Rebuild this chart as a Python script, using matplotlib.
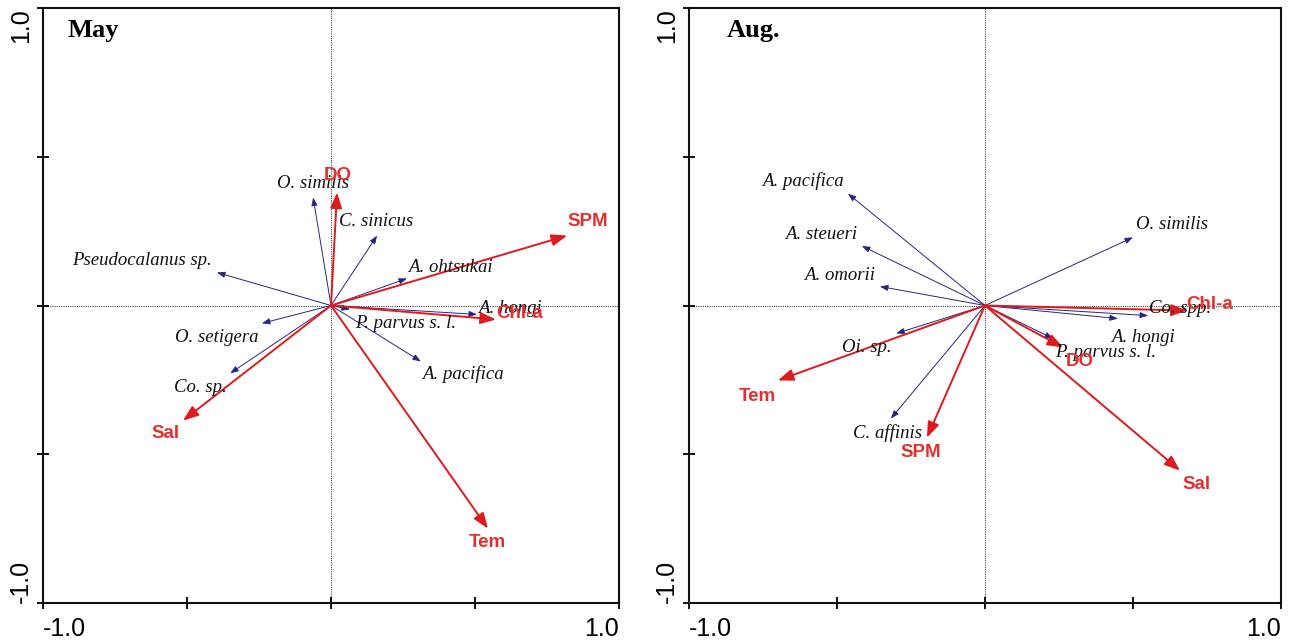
import matplotlib
matplotlib.use("Agg")
import matplotlib.pyplot as plt

# ---------------- data: May ----------------
may_species = ["O. similis", "C. sinicus", "Pseudocalanus sp.", "A. ohtsukai", "A. hongi",
               "P. parvus s. l.", "A. pacifica", "O. setigera", "Co. sp."]
may_sp_x = [-0.062, 0.160, -0.396, 0.264, 0.507, 0.066, 0.312, -0.240, -0.350]
may_sp_y = [0.363, 0.235, 0.111, 0.091, -0.030, -0.013, -0.188, -0.060, -0.228]
may_sp_lx = [-0.062, 0.155, -0.656, 0.413, 0.620, 0.258, 0.458, -0.396, -0.455]
may_sp_ly = [0.410, 0.282, 0.151, 0.128, -0.010, -0.060, -0.232, -0.108, -0.276]

may_env = ["DO", "SPM", "Chl-a", "Sal", "Tem"]
may_env_x = [0.021, 0.820, 0.573, -0.514, 0.545]
may_env_y = [0.380, 0.235, -0.047, -0.387, -0.750]
may_env_lx = [0.024, 0.892, 0.656, -0.573, 0.542]
may_env_ly = [0.437, 0.282, -0.027, -0.430, -0.797]

# ---------------- data: Aug. ----------------
aug_species = ["A. pacifica", "A. steueri", "A. omorii", "Oi. sp.", "C. affinis",
               "O. similis", "Co. spp.", "A. hongi", "P. parvus s. l."]
aug_sp_x = [-0.463, -0.416, -0.355, -0.300, -0.318, 0.500, 0.551, 0.449, 0.230]
aug_sp_y = [0.376, 0.200, 0.064, -0.094, -0.380, 0.229, -0.034, -0.044, -0.111]
aug_sp_lx = [-0.615, -0.554, -0.490, -0.399, -0.328, 0.632, 0.659, 0.534, 0.409]
aug_sp_ly = [0.417, 0.239, 0.101, -0.141, -0.430, 0.272, -0.010, -0.108, -0.158]

aug_env = ["Tem", "SPM", "Chl-a", "DO", "Sal"]
aug_env_x = [-0.700, -0.196, 0.682, 0.264, 0.659]
aug_env_y = [-0.252, -0.444, -0.017, -0.141, -0.555]
aug_env_lx = [-0.770, -0.216, 0.760, 0.321, 0.713]
aug_env_ly = [-0.306, -0.494, 0.003, -0.188, -0.602]

ticks = [-1.0, -0.5, 0.0, 0.5, 1.0]
tick_labels = ["-1.0", "", "", "", "1.0"]

BLUE = "#262680"
RED = "#dd1a1e"
RED_TXT = "#e2302f"
SERIF = "Liberation Serif"
SANS = "Liberation Sans"

fig = plt.figure(figsize=(12.92, 6.41), dpi=100)
ax1 = fig.add_axes([43 / 1292, 38 / 641, 576 / 1292, 595 / 641])
ax2 = fig.add_axes([689 / 1292, 38 / 641, 592 / 1292, 595 / 641])


def draw(ax, title, title_x, sp, spx, spy, splx, sply, env, ex, ey, elx, ely):
    ax.set_xlim(-1, 1)
    ax.set_ylim(-1, 1)
    ax.axhline(0, color="#444444", lw=0.8, ls=(0, (1, 1)), zorder=1)
    ax.axvline(0, color="#444444", lw=0.8, ls=(0, (1, 1)), zorder=1)
    for x, y in zip(spx, spy):
        ax.annotate("", xy=(x, y), xytext=(0, 0),
                    arrowprops=dict(arrowstyle="-|>,head_length=0.8,head_width=0.3",
                                    mutation_scale=6, color=BLUE, lw=0.7,
                                    shrinkA=0, shrinkB=0), zorder=2)
    for x, y in zip(ex, ey):
        ax.annotate("", xy=(x, y), xytext=(0, 0),
                    arrowprops=dict(arrowstyle="-|>,head_length=0.85,head_width=0.32",
                                    mutation_scale=11, color=RED, lw=1.4,
                                    shrinkA=0, shrinkB=0), zorder=3)
    for name, x, y in zip(sp, splx, sply):
        ax.text(x, y, name, ha="center", va="center", fontsize=13.5,
                family=SERIF, style="italic", color="#111111", zorder=4)
    for name, x, y in zip(env, elx, ely):
        ax.text(x, y, name, ha="center", va="center", fontsize=13.5,
                family=SANS, weight="bold", color=RED_TXT, zorder=5)
    ax.text(title_x, 0.982, title, transform=ax.transAxes, ha="left", va="top",
            fontsize=19, family=SERIF, weight="bold")
    ax.set_xticks(ticks)
    ax.set_yticks(ticks)
    ax.set_xticklabels(tick_labels, fontsize=18, family=SANS)
    ax.set_yticklabels(tick_labels, fontsize=18, family=SANS, rotation=90)
    ax.tick_params(direction="inout", length=8, width=1.3)
    ax.tick_params(axis="x", pad=6)
    ax.tick_params(axis="y", pad=3)
    xl = ax.get_xticklabels()
    xl[0].set_ha("left")
    xl[-1].set_ha("right")
    yl = ax.get_yticklabels()
    yl[0].set_va("bottom")
    yl[-1].set_va("top")
    for s in ax.spines.values():
        s.set_linewidth(1.5)
        s.set_color("#111111")


draw(ax1, "May", 0.042, may_species, may_sp_x, may_sp_y, may_sp_lx, may_sp_ly,
     may_env, may_env_x, may_env_y, may_env_lx, may_env_ly)
draw(ax2, "Aug.", 0.064, aug_species, aug_sp_x, aug_sp_y, aug_sp_lx, aug_sp_ly,
     aug_env, aug_env_x, aug_env_y, aug_env_lx, aug_env_ly)

fig.savefig("out.png", dpi=100)
